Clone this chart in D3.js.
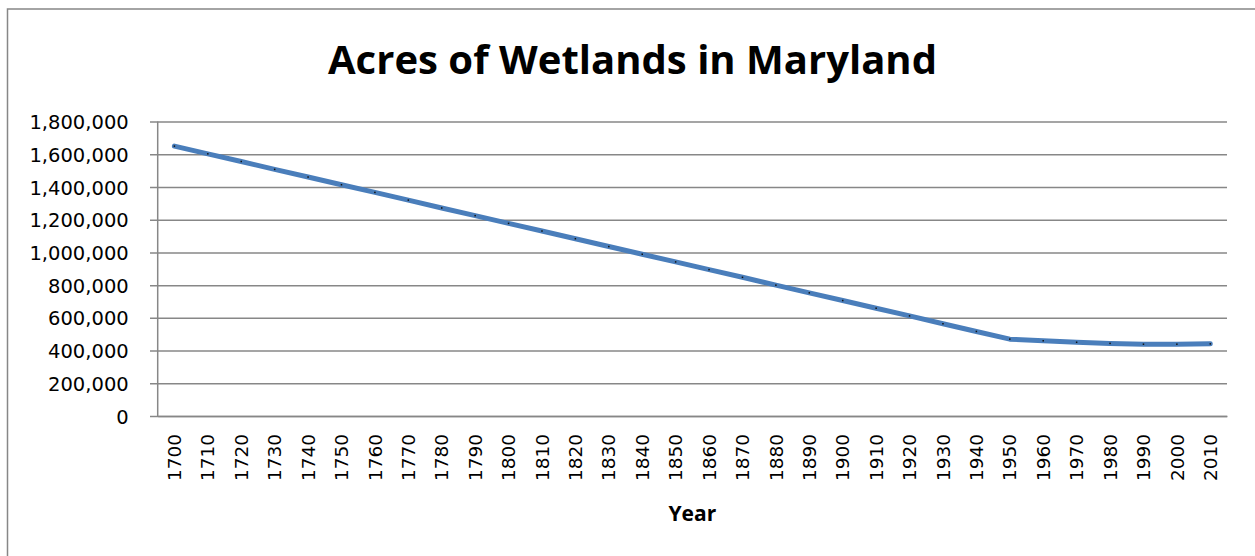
<!DOCTYPE html>
<html>
<head>
<meta charset="utf-8">
<script src="https://cdn.jsdelivr.net/npm/d3@7"></script>
<style>
  html, body { margin: 0; padding: 0; background: #fff; }
  svg { display: block; }
</style>
</head>
<body>
<svg id="chart" width="1255" height="556"></svg>
<script>
// Wetland acreage in Maryland by decade
const years = ["1700","1710","1720","1730","1740","1750","1760","1770","1780","1790",
               "1800","1810","1820","1830","1840","1850","1860","1870","1880","1890",
               "1900","1910","1920","1930","1940","1950","1960","1970","1980","1990",
               "2000","2010"];
const acres = [1650000,1603000,1556000,1508000,1461000,1414000,1367000,1320000,1272000,1225000,
               1178000,1131000,1084000,1036000,989000,942000,895000,848000,800000,753000,
               706000,659000,612000,564000,517000,470000,460000,451000,444000,439000,
               439000,441000];
const yTicks = [0,200000,400000,600000,800000,1000000,1200000,1400000,1600000,1800000];

const titleText = "Acres of Wetlands in Maryland";
const xTitle = "Year";

const svg = d3.select("#chart");
const gridColor = "#878787";
const lineColor = "#4A7EBB";

// outer chart frame
svg.append("rect")
  .attr("x", 7.5).attr("y", 9)
  .attr("width", 1300).attr("height", 600)
  .attr("fill", "none")
  .attr("stroke", gridColor)
  .attr("stroke-width", 1.5);

const plot = { left: 157.7, right: 1227, top: 121.6, bottom: 416 };

const x = d3.scaleBand().domain(years).range([plot.left, plot.right]).padding(0);
const y = d3.scaleLinear().domain([0, 1800000]).range([plot.bottom, plot.top]);

// horizontal gridlines with tick stubs on the left
const yAxis = d3.axisLeft(y)
  .tickValues(yTicks)
  .tickFormat(d3.format(","))
  .tickSize(-(plot.right - plot.left))
  .tickPadding(29);

const gy = svg.append("g")
  .attr("transform", `translate(${plot.left},0)`)
  .call(yAxis);
gy.select(".domain").remove();
gy.selectAll(".tick line")
  .attr("x1", -7.7)
  .attr("stroke", gridColor)
  .attr("stroke-width", 1.5);
gy.selectAll(".tick text")
  .attr("fill", "#000")
  .style("font-family", "'DejaVu Sans', sans-serif")
  .style("font-size", "19.5px")
  .attr("dy", "0.36em");

// vertical axis line
svg.append("line")
  .attr("x1", plot.left).attr("x2", plot.left)
  .attr("y1", plot.top).attr("y2", plot.bottom)
  .attr("stroke", gridColor).attr("stroke-width", 1.5);

// category axis labels (rotated)
const xAxis = d3.axisBottom(x).tickSize(0).tickPadding(0);
const gx = svg.append("g")
  .attr("transform", `translate(0,${plot.bottom})`)
  .call(xAxis);
gx.select(".domain")
  .attr("stroke", gridColor).attr("stroke-width", 1.5);
gx.selectAll(".tick text")
  .attr("fill", "#000")
  .style("font-family", "'DejaVu Sans', sans-serif")
  .style("font-size", "18.5px")
  .attr("text-anchor", "end")
  .attr("transform", "rotate(-90)")
  .attr("x", -18)
  .attr("y", 0)
  .attr("dy", "0.36em");

// data line
const line = d3.line()
  .x((d, i) => x(years[i]) + x.bandwidth() / 2)
  .y(d => y(d));

svg.append("path")
  .datum(acres)
  .attr("d", line)
  .attr("fill", "none")
  .attr("stroke", lineColor)
  .attr("stroke-width", 5)
  .attr("stroke-linecap", "round")
  .attr("stroke-linejoin", "round");

// tiny point markers
svg.append("g").selectAll("rect")
  .data(acres)
  .join("rect")
  .attr("x", (d, i) => x(years[i]) + x.bandwidth() / 2 - 0.75)
  .attr("y", d => y(d) - 0.75)
  .attr("width", 1.5).attr("height", 1.5)
  .attr("fill", "#111");

// chart title
svg.append("text")
  .attr("x", 632.5).attr("y", 73.5)
  .attr("text-anchor", "middle")
  .style("font-family", "'Open Sans', sans-serif")
  .style("font-weight", "bold")
  .style("font-size", "39px")
  .attr("textLength", 609)
  .attr("lengthAdjust", "spacingAndGlyphs")
  .text(titleText);

// axis title
svg.append("text")
  .attr("x", (plot.left + plot.right) / 2).attr("y", 520.5)
  .attr("text-anchor", "middle")
  .style("font-family", "'Open Sans', sans-serif")
  .style("font-weight", "bold")
  .style("font-size", "21px")
  .text(xTitle);
</script>
</body>
</html>
